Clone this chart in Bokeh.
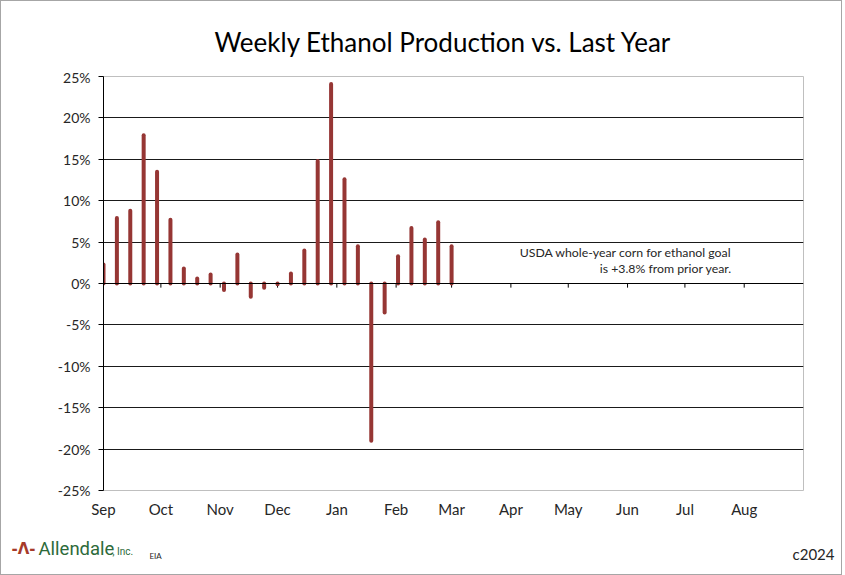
from bokeh.plotting import figure
from bokeh.layouts import column
from bokeh.models import (FixedTicker, LinearAxis, Range1d, Span, Label)
from bokeh.core.properties import value
from bokeh.embed import file_html
from bokeh.resources import INLINE

# ---------------- data ----------------
week_days = [7 * k for k in range(27)]  # days since Sep 1
pct_change = [2.3, 7.9, 8.8, 17.9, 13.5, 7.7, 1.8, 0.6, 1.1, -0.8, 3.5, -1.6, -0.5, -0.1,
              1.2, 4.0, 14.8, 24.1, 12.6, 4.5, -19.0, -3.5, 3.3, 6.7, 5.3, 7.4, 4.5]
month_names = ["Sep", "Oct", "Nov", "Dec", "Jan", "Feb", "Mar", "Apr", "May", "Jun", "Jul", "Aug"]
month_days = [0, 30, 61, 91, 122, 153, 182, 213, 243, 274, 304, 335]
y_ticks = [-25, -20, -15, -10, -5, 0, 5, 10, 15, 20, 25]
title_text = "Weekly Ethanol Production vs. Last Year"
note_lines = ["USDA whole-year corn for ethanol goal", "is +3.8% from prior year."]

FONT = "Lato"
BAR = "#963634"
TXT = "#262626"
W = 840


def blank(height):
    f = figure(width=W, height=height, output_backend="svg", toolbar_location=None,
               x_range=Range1d(0, W), y_range=Range1d(height, 0),
               min_border_left=0, min_border_right=0, min_border_top=0, min_border_bottom=0,
               x_axis_location=None, y_axis_location=None, frame_align=False)
    f.frame_width = W
    f.frame_height = height
    f.outline_line_color = None
    f.grid.visible = False
    f.background_fill_color = "white"
    f.border_fill_color = "white"
    return f


# ---------------- header ----------------
head = blank(67)
head.text(x=[442], y=[40], text=[title_text], text_align="center", text_baseline="middle",
          text_font=value(FONT), text_font_size="26px", text_color="black")

# ---------------- main chart ----------------
p = figure(width=W, height=457, output_backend="svg", toolbar_location=None,
           x_range=Range1d(0, 366), y_range=Range1d(-25, 25),
           min_border_left=102, min_border_right=38, min_border_top=8, min_border_bottom=35,
           x_axis_location=None, y_axis_location=None, frame_align=False)
p.frame_width = 700
p.frame_height = 414
p.outline_line_color = "#bfbfbf"
p.outline_line_width = 1
p.background_fill_color = "white"
p.border_fill_color = "white"

yax = LinearAxis(ticker=FixedTicker(ticks=y_ticks))
yax.major_label_overrides = {t: f"{t}%" for t in y_ticks}
yax.axis_line_color = "black"
yax.major_tick_line_color = "black"
yax.major_tick_in = 0
yax.major_tick_out = 5
yax.minor_tick_line_color = None
yax.major_label_standoff = 8
yax.major_label_text_font = FONT
yax.major_label_text_font_size = "14px"
yax.major_label_text_color = TXT
p.add_layout(yax, "left")

xax = LinearAxis(ticker=FixedTicker(ticks=month_days))
xax.major_label_overrides = {d: m for d, m in zip(month_days, month_names)}
xax.axis_line_color = None
xax.major_tick_line_color = None
xax.minor_tick_line_color = None
xax.major_tick_in = 0
xax.major_tick_out = 0
xax.major_label_standoff = 9
xax.major_label_text_font = FONT
xax.major_label_text_font_size = "15px"
xax.major_label_text_color = TXT
p.add_layout(xax, "below")

p.xgrid.visible = False
p.ygrid.ticker = FixedTicker(ticks=[-20, -15, -10, -5, 5, 10, 15, 20])
p.ygrid.grid_line_color = "#1a1a1a"
p.ygrid.grid_line_width = 1

# zero (category) axis with month ticks
p.add_layout(Span(location=0, dimension="width", line_color="black", line_width=1))
p.segment(x0=month_days[1:], y0=[0] * 11, x1=month_days[1:], y1=[-0.5] * 11,
          line_color="black", line_width=1)

# bars
p.segment(x0=week_days, y0=[0] * len(week_days), x1=week_days, y1=pct_change,
          line_color=BAR, line_width=4, line_cap="round")

# note
p.add_layout(Label(x=328.5, y=3.8, text=note_lines[0], text_align="right",
                   text_baseline="middle", text_font=FONT, text_font_size="12.3px",
                   text_color=TXT))
p.add_layout(Label(x=328.5, y=1.85, text=note_lines[1], text_align="right",
                   text_baseline="middle", text_font=FONT, text_font_size="12.3px",
                   text_color=TXT))

# ---------------- footer ----------------
foot = blank(49)
foot.text(x=[10], y=[23], text=["-Λ-"], text_align="left", text_baseline="middle",
          text_font=value("DejaVu Sans"), text_font_style="bold", text_font_size="15px",
          text_color="#a63a2a")
foot.text(x=[37], y=[23], text=["Allendale"], text_align="left", text_baseline="middle",
          text_font=value("Roboto"), text_font_size="18.5px", text_color="#2d6a3a")
foot.text(x=[111], y=[26], text=[", Inc."], text_align="left", text_baseline="middle",
          text_font=value("Roboto"), text_font_size="10px", text_color="#2d6a3a")
foot.text(x=[148], y=[30], text=["EIA"], text_align="left", text_baseline="middle",
          text_font=value(FONT), text_font_size="8px", text_color=TXT)
foot.text(x=[833], y=[28], text=["c2024"], text_align="right", text_baseline="middle",
          text_font=value(FONT), text_font_size="15px", text_color=TXT)

layout = column(head, p, foot, spacing=0)
layout.styles = {"border": "1px solid #a6a6a6"}

open("out.html", "w").write(file_html(layout, INLINE))
